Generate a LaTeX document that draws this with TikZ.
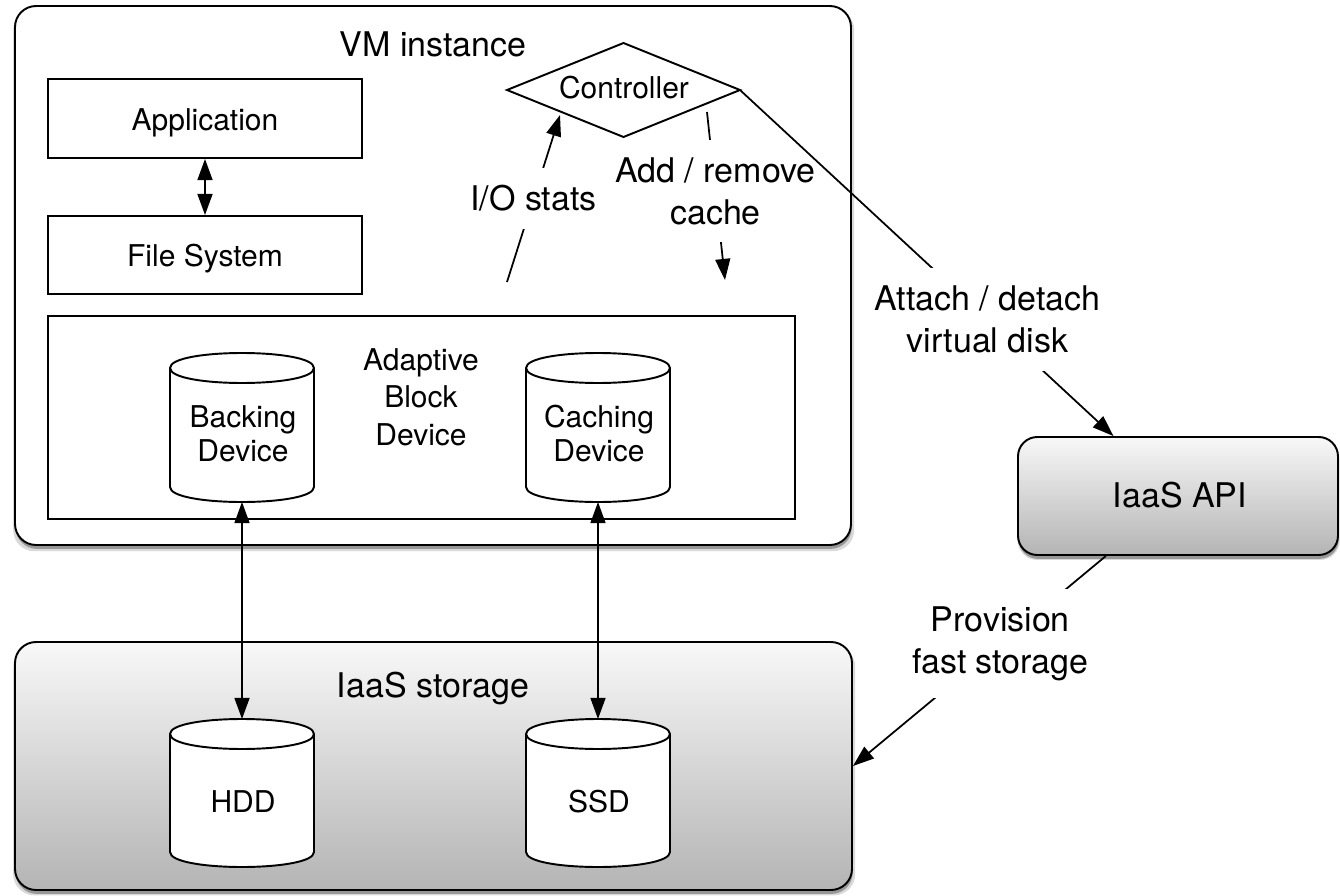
\documentclass[tikz,border=0pt]{standalone}
\usepackage{fontspec}
\setmainfont{TeX Gyre Heros}
\usetikzlibrary{arrows.meta,shapes.geometric,shadows,calc}
\newcommand\fsS{\fontsize{17.07pt}{21.3pt}\selectfont}
\newcommand\fsC{\fontsize{17.07pt}{19.3pt}\selectfont}
\newcommand\fsB{\fontsize{19.35pt}{23.8pt}\selectfont}
\def\u{0.02cm}
\definecolor{gtop}{HTML}{F8F8F8}
\definecolor{gbot}{HTML}{B4B4B4}
\newcommand\drawcyl[1]{%
 \path[fill=white, draw=black, line width=1.1pt] let \p1=(#1.north west), \p2=(#1.south east) in
   (\x1,\y1-0.3cm) -- (\x1,\y2+0.3cm) .. controls (\x1,\y2-0.1cm) and (\x2,\y2-0.1cm) .. (\x2,\y2+0.3cm)
   -- (\x2,\y1-0.3cm) .. controls (\x2,\y1+0.1cm) and (\x1,\y1+0.1cm) .. cycle;
 \path[draw=black, line width=1.1pt] let \p1=(#1.north west), \p2=(#1.south east) in
   (\x1,\y1-0.3cm) .. controls (\x1,\y1-0.7cm) and (\x2,\y1-0.7cm) .. (\x2,\y1-0.3cm);
}
\begin{document}
\begin{tikzpicture}[x=0.02cm,y=-0.02cm,
  >={Triangle[length=12pt,width=8.5pt]},
  box/.style={draw, line width=1.1pt, fill=white, inner sep=0pt},
  cylnode/.style={inner sep=0pt, outer sep=0pt, minimum width=144*\u},
  txtS/.style={font=\fsS, inner sep=0pt, align=center},
  txtC/.style={font=\fsC, inner sep=0pt, align=center},
  txtB/.style={font=\fsB, inner sep=0pt, align=center},
  conn/.style={line width=1pt},
  lbl/.style={fill=white, inner sep=10pt, font=\fsB, align=center},
  sh/.style={drop shadow={shadow xshift=0.4pt, shadow yshift=-2.6pt, shadow scale=1.006, opacity=0.15, fill=black},
             drop shadow={shadow xshift=0.4pt, shadow yshift=-2.2pt, opacity=0.3, fill=black}},
  grad/.style={top color=gtop, bottom color=gbot}
]
\useasboundingbox (0,0) rectangle (1340,896);

% VM instance
\node[box, sh, rounded corners=12pt, minimum width=836*\u, minimum height=539*\u] (vm) at (433,275.5) {};
\node[txtB, anchor=base] (vmtitle) at (433,56) {VM instance};

\node[box, minimum width=314*\u, minimum height=79*\u] (app) at (205,118.5) {};
\node[txtS, anchor=base] (apptxt) at (205,130) {Application};
\node[box, minimum width=314*\u, minimum height=78*\u] (fs) at (205,255) {};
\node[txtS, anchor=base] (fstxt) at (205,266.5) {File System};
\draw[conn, <->] (app) -- (fs);

\node[box, minimum width=747*\u, minimum height=203*\u] (abd) at (421.5,417.5) {};
\node[txtS] (abdtxt) at (421,397) {Adaptive\\Block\\Device};

\node[cylnode, minimum height=149*\u] (backing) at (242,427.5) {};
\drawcyl{backing}
\node[txtC] (backingtxt) at (243,433.5) {Backing\\Device};
\node[cylnode, minimum height=149*\u] (caching) at (598,427.5) {};
\drawcyl{caching}
\node[txtC] (cachingtxt) at (599,433.5) {Caching\\Device};

% Controller
\node[draw, diamond, line width=1.1pt, fill=white, inner sep=0pt, outer sep=0pt, aspect=2.48,
      minimum width=233*\u, minimum height=94*\u] (controller) at (623.5,90) {};
\node[txtS, anchor=base] (ctrltxt) at (624,98) {Controller};

\coordinate (iob) at (507,282);
\coordinate (iot) at (560,115);
\draw[conn, ->] (iob) -- node[lbl, pos=0.5] (iolbl) {I/O stats} (iot);

\coordinate (art) at (707,112);
\coordinate (arb) at (725,280);
\draw[conn, ->] (art) -- node[lbl, pos=0.47] (arlbl) {Add / remove\\cache} (arb);

% IaaS storage
\node[box, sh, grad, rounded corners=12pt, minimum width=837*\u, minimum height=248*\u] (storage) at (433.5,766) {};
\node[txtB, anchor=base] (stortxt) at (433,697) {IaaS storage};
\node[cylnode, minimum height=148*\u] (hdd) at (242,793) {};
\drawcyl{hdd}
\node[txtS, anchor=base] (hddtxt) at (243,812) {HDD};
\node[cylnode, minimum height=148*\u] (ssd) at (598,793) {};
\drawcyl{ssd}
\node[txtS, anchor=base] (ssdtxt) at (599,812) {SSD};

\draw[conn, <->] (backing) -- (hdd);
\draw[conn, <->] (caching) -- (ssd);

% IaaS API
\node[box, sh, grad, rounded corners=11pt, minimum width=320*\u, minimum height=118*\u] (api) at (1178,496) {};
\node[txtB, anchor=base] (apitxt) at (1180,507) {IaaS API};

\draw[conn, ->] (controller.east) -- node[lbl, pos=0.663] (attlbl) {Attach / detach\\virtual disk} (api);
\draw[conn, ->] (api) -- node[lbl, pos=0.417] (provlbl) {Provision\\fast storage} (storage.east);
\end{tikzpicture}
\end{document}
